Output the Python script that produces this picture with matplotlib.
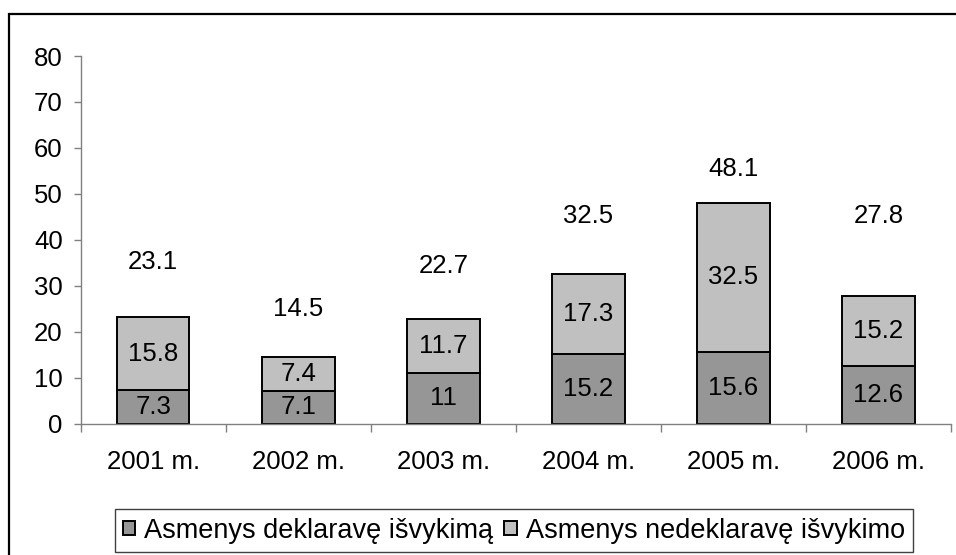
import matplotlib.pyplot as plt
from matplotlib.patches import Rectangle
import numpy as np

plt.rcParams['font.family'] = ['Liberation Sans', 'DejaVu Sans']

# data
years = ["2001 m.", "2002 m.", "2003 m.", "2004 m.", "2005 m.", "2006 m."]
declared = [7.3, 7.1, 11, 15.2, 15.6, 12.6]
undeclared = [15.8, 7.4, 11.7, 17.3, 32.5, 15.2]
totals = [23.1, 14.5, 22.7, 32.5, 48.1, 27.8]
# height (in axis units) where the total labels sit in the original
total_label_y = [35.1, 24.9, 34.2, 45.1, 55.4, 45.1]

dark = "#969696"
light = "#c0c0c0"
fs = 18.5

fig = plt.figure(figsize=(9.56, 5.55), dpi=100)
ax = fig.add_axes([80.7 / 956, 1 - 423.5 / 555, (951 - 80.7) / 956, (423.5 - 56) / 555])

x = np.arange(len(years))
b1 = ax.bar(x, declared, width=0.5, color=dark, edgecolor="black", linewidth=1.4,
            label="Asmenys deklaravę išvykimą")
b2 = ax.bar(x, undeclared, width=0.5, bottom=declared, color=light, edgecolor="black",
            linewidth=1.4, label="Asmenys nedeklaravę išvykimo")

for i in range(len(years)):
    ax.text(x[i], declared[i] / 2, f"{declared[i]:g}", ha="center", va="center", fontsize=fs)
    ax.text(x[i], declared[i] + undeclared[i] / 2, f"{undeclared[i]:g}", ha="center",
            va="center", fontsize=fs)
    ax.text(x[i], total_label_y[i], f"{totals[i]:g}", ha="center", va="center", fontsize=fs)

ax.set_xlim(-0.5, len(years) - 0.5)
ax.set_ylim(0, 80)
ax.set_yticks(np.arange(0, 81, 10))

# category boundaries get tick marks, labels go in between
ax.set_xticks(np.arange(-0.5, len(years), 1.0))
ax.set_xticklabels([])
ax.set_xticks(x, minor=True)
ax.set_xticklabels(years, minor=True, fontsize=fs)
ax.tick_params(axis="x", which="major", length=6, width=1, color="#808080")
ax.tick_params(axis="x", which="minor", length=0, pad=19)
ax.tick_params(axis="y", length=5, width=1, color="#808080", labelsize=fs, pad=8)

for s in ["top", "right"]:
    ax.spines[s].set_visible(False)
for s in ["left", "bottom"]:
    ax.spines[s].set_color("#808080")
    ax.spines[s].set_linewidth(1)

leg = fig.legend(handles=[b1, b2], loc="center", bbox_to_anchor=(514 / 956, 1 - 530.5 / 555),
                 ncol=2, fontsize=19.5, fancybox=False, framealpha=1, edgecolor="#404040",
                 handlelength=0.45, handleheight=0.45, handletextpad=0.35, columnspacing=0.4,
                 borderpad=0.3, borderaxespad=0)
leg.get_frame().set_linewidth(1)

# outer chart border
fig.patches.append(Rectangle((8.5 / 956, -0.05), 1.1, 1 - 13.5 / 555 + 0.05,
                             transform=fig.transFigure, fill=False, edgecolor="black",
                             linewidth=1.6))

fig.savefig("out.png", dpi=100)
